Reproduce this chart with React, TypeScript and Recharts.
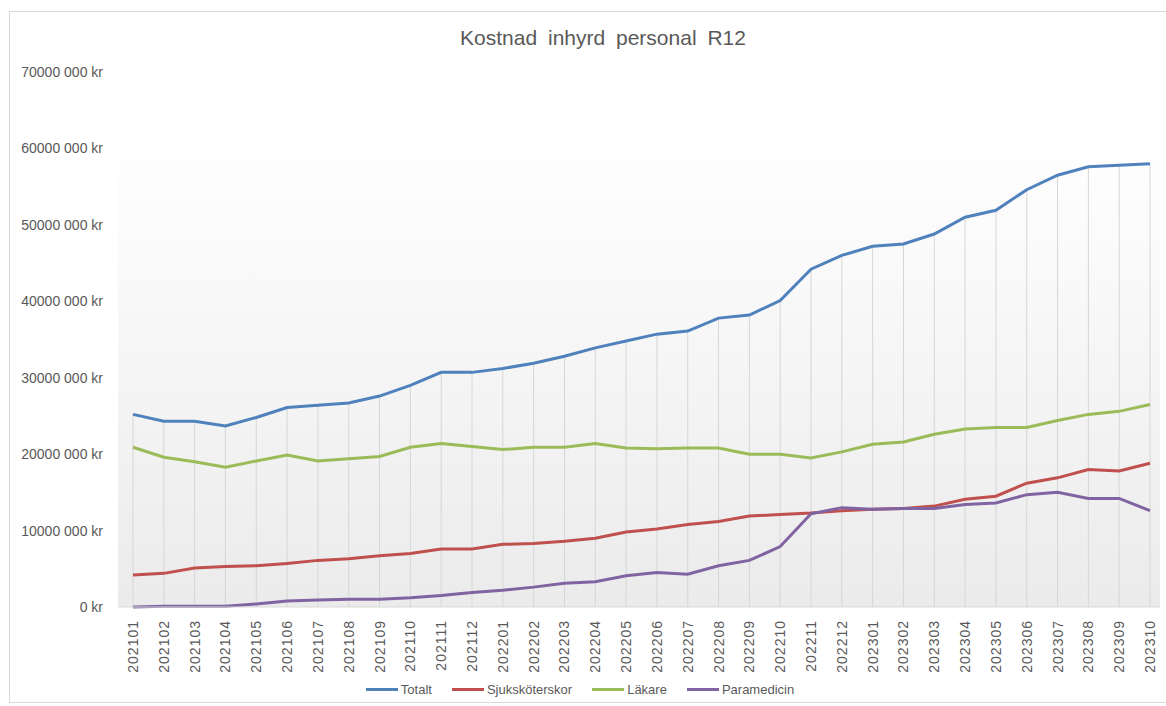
import { LineChart, Line, XAxis, YAxis, CartesianGrid, Legend, ReferenceLine } from "recharts";

const months = [
  "202101", "202102", "202103", "202104", "202105", "202106", "202107", "202108", "202109", "202110", "202111", "202112",
  "202201", "202202", "202203", "202204", "202205", "202206", "202207", "202208", "202209", "202210", "202211", "202212",
  "202301", "202302", "202303", "202304", "202305", "202306", "202307", "202308", "202309", "202310",
];

// miljoner kr
const totalt = [
  25.2, 24.3, 24.3, 23.7, 24.8, 26.1, 26.4, 26.7, 27.6, 29.0, 30.7, 30.7,
  31.2, 31.9, 32.8, 33.9, 34.8, 35.7, 36.1, 37.8, 38.2, 40.1, 44.2, 46.0,
  47.2, 47.5, 48.8, 51.0, 51.9, 54.6, 56.5, 57.6, 57.8, 58.0,
];
const sjukskoterskor = [
  4.2, 4.4, 5.1, 5.3, 5.4, 5.7, 6.1, 6.3, 6.7, 7.0, 7.6, 7.6,
  8.2, 8.3, 8.6, 9.0, 9.8, 10.2, 10.8, 11.2, 11.9, 12.1, 12.3, 12.6,
  12.8, 12.9, 13.2, 14.1, 14.5, 16.2, 16.9, 18.0, 17.8, 18.8,
];
const lakare = [
  20.9, 19.6, 19.0, 18.3, 19.1, 19.9, 19.1, 19.4, 19.7, 20.9, 21.4, 21.0,
  20.6, 20.9, 20.9, 21.4, 20.8, 20.7, 20.8, 20.8, 20.0, 20.0, 19.5, 20.3,
  21.3, 21.6, 22.6, 23.3, 23.5, 23.5, 24.4, 25.2, 25.6, 26.5,
];
const paramedicin = [
  0.0, 0.1, 0.1, 0.1, 0.4, 0.8, 0.9, 1.0, 1.0, 1.2, 1.5, 1.9,
  2.2, 2.6, 3.1, 3.3, 4.1, 4.5, 4.3, 5.4, 6.1, 7.9, 12.2, 13.0,
  12.8, 12.9, 12.9, 13.4, 13.6, 14.7, 15.0, 14.2, 14.2, 12.6,
];

const yTicks = [0, 10000000, 20000000, 30000000, 40000000, 50000000, 60000000, 70000000];

const series = [
  { key: "Totalt", values: totalt, color: "#4F81BD" },
  { key: "Sjuksköterskor", values: sjukskoterskor, color: "#C0504D" },
  { key: "Läkare", values: lakare, color: "#9BBB59" },
  { key: "Paramedicin", values: paramedicin, color: "#8064A2" },
];

const data = months.map((m, i) => {
  const row: Record<string, string | number> = { month: m };
  series.forEach((s) => {
    row[s.key] = Math.round(s.values[i] * 1000000);
  });
  return row;
});

// droplines from the highest series down to the axis, like in Excel
const dropLines = months.map((m, i) => ({
  month: m,
  top: Math.max(...series.map((s) => s.values[i])) * 1000000,
}));

const textColor = "#595959";
const font = "'Liberation Sans', sans-serif";

function formatKr(v: number) {
  if (v === 0) return "0 kr";
  const thousands = Math.floor(v / 1000);
  const rest = String(v % 1000).padStart(3, "0");
  return `${thousands} ${rest} kr`;
}

function MonthTick({ x, y, payload }: any) {
  return (
    <text
      x={x}
      y={y + 6}
      transform={`rotate(-90, ${x}, ${y + 6})`}
      textAnchor="end"
      dominantBaseline="central"
      fontSize={14}
      letterSpacing={1}
      fontFamily={font}
      fill={textColor}
    >
      {payload.value}
    </text>
  );
}

function LegendBox() {
  return (
    <div style={{ display: "flex", justifyContent: "center", alignItems: "center", height: 30, fontFamily: font, fontSize: 13, color: textColor }}>
      {series.map((s, i) => (
        <div key={s.key} style={{ display: "flex", alignItems: "center", marginLeft: i === 0 ? 0 : 20 }}>
          <span style={{ display: "inline-block", width: 32, height: 3, background: s.color, marginRight: 3 }} />
          <span>{s.key}</span>
        </div>
      ))}
    </div>
  );
}

export default function App() {
  return (
    <div style={{ position: "absolute", left: 0, top: 0, width: 1166, height: 706, background: "#fff" }}>
      <div style={{ position: "absolute", left: 9, top: 11, width: 1160, height: 692, border: "1px solid #d9d9d9", boxSizing: "border-box" }} />
      <div
        style={{
          position: "absolute",
          left: 0,
          top: 26,
          width: 1206,
          textAlign: "center",
          fontFamily: font,
          fontSize: 21,
          wordSpacing: 5,
          color: textColor,
        }}
      >
        Kostnad inhyrd personal R12
      </div>
      <LineChart width={1166} height={706} data={data} margin={{ top: 72, right: 6, left: 0, bottom: 2 }}>
        <defs>
          <linearGradient id="plotBg" x1="0" y1="0" x2="0" y2="1">
            <stop offset="0%" stopColor="#ffffff" />
            <stop offset="12%" stopColor="#ffffff" />
            <stop offset="100%" stopColor="#ebebeb" />
          </linearGradient>
        </defs>
        <CartesianGrid horizontal={false} vertical={false} fill="url(#plotBg)" />
        <XAxis
          dataKey="month"
          interval={0}
          height={67}
          padding={{ left: 15, right: 10 }}
          tick={<MonthTick />}
          tickSize={5}
          axisLine={{ stroke: "#d9d9d9" }}
          tickLine={false}
        />
        <YAxis
          width={118}
          domain={[0, 70000000]}
          ticks={yTicks}
          tickFormatter={formatKr}
          axisLine={false}
          tickLine={false}
          tickSize={0}
          tickMargin={15}
          tick={{ fontSize: 14, fill: textColor, fontFamily: font }}
        />
        {dropLines.map((d) => (
          <ReferenceLine
            key={d.month}
            segment={[{ x: d.month, y: 0 }, { x: d.month, y: d.top }]}
            stroke="#d6d6d6"
            strokeWidth={1}
          />
        ))}
        <Legend verticalAlign="bottom" content={<LegendBox />} />
        {series.map((s) => (
          <Line
            key={s.key}
            type="linear"
            dataKey={s.key}
            stroke={s.color}
            strokeWidth={3}
            dot={false}
            isAnimationActive={false}
          />
        ))}
      </LineChart>
    </div>
  );
}
